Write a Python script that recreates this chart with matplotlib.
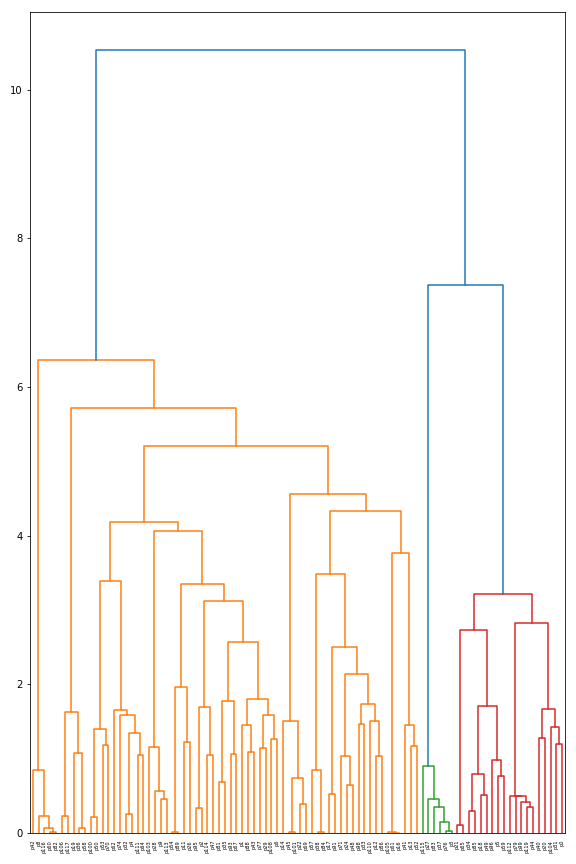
import numpy as np
import matplotlib
matplotlib.use('Agg')
import matplotlib.pyplot as plt

# Folhas na ordem em que aparecem no eixo x
leaf_labels = ['p42', 'p8', 'p116', 'p60', 'p82', 'p106', 'p117', 'p19', 'p36', 'p58',
               'p100', 'p50', 'p53', 'p70', 'p62', 'p74', 'p32', 'p4', 'p111', 'p64',
               'p103', 'p28', 'p9', 'p113', 'p54', 'p89', 'p11', 'p26', 'p95', 'p2',
               'p114', 'p47', 'p81', 'p35', 'p93', 'p67', 'p1', 'p88', 'p43', 'p77',
               'p29', 'p108', 'p6', 'p14', 'p45', 'p101', 'p22', 'p69', 'p57', 'p38',
               'p84', 'p17', 'p91', 'p71', 'p24', 'p48', 'p98', 'p33', 'p110', 'p12',
               'p86', 'p105', 'p61', 'p16', 'p41', 'p13', 'p52', 'p115', 'p27', 'p83',
               'p37', 'p76', 'p3', 'p21', 'p65', 'p34', 'p85', 'p18', 'p49', 'p96',
               'p5', 'p59', 'p112', 'p79', 'p99', 'p119', 'p44', 'p40', 'p20', 'p104',
               'p31', 'p0']

# Fusoes (estilo matriz de ligacao): indices < n_folhas sao folhas,
# indice n_folhas + k e a fusao k
merge_a = [3, 2, 1, 0, 5, 8, 7, 96, 10, 12, 100, 16, 18, 103, 15, 14, 102,
           22, 21, 20, 24, 26, 112, 28, 30, 115, 32, 34, 118, 37, 36, 39, 41, 123, 122,
           120, 117, 114, 111, 108, 44, 46, 132, 43, 49, 48, 51, 54, 53, 56, 59, 58,
           141, 140, 138, 137, 62, 61, 65, 64, 149, 147, 135, 131, 99, 95,
           71, 70, 69, 68, 67, 73, 75, 77, 164, 80, 79, 166, 163, 85, 84, 83, 82,
           87, 90, 89, 175, 174, 170, 162, 157]
merge_b = [4, 92, 93, 94, 6, 9, 97, 98, 11, 13, 101, 17, 19, 104, 105, 106, 107,
           23, 109, 110, 25, 27, 113, 29, 31, 116, 33, 35, 119, 38, 121, 40, 42, 124, 125,
           126, 127, 128, 129, 130, 45, 47, 133, 134, 50, 136, 52, 55, 139, 57, 60, 142,
           143, 144, 145, 146, 63, 148, 66, 150, 151, 152, 153, 154, 155, 156,
           72, 158, 159, 160, 161, 74, 76, 78, 165, 81, 167, 168, 169, 86, 171, 172, 173,
           88, 91, 176, 177, 178, 179, 180, 181]
merge_h = [0.01, 0.06, 0.23, 0.84, 0.23, 0.06, 1.07, 1.63, 0.21, 1.18, 1.40, 0.26, 1.05,
           1.35, 1.58, 1.66, 3.39, 0.46, 0.56, 1.15, 0.01, 1.22, 1.96, 0.33, 1.05, 1.69,
           0.69, 1.06, 1.78, 1.09, 1.45, 1.14, 1.27, 1.58, 1.80, 2.57, 3.12, 3.35, 4.06,
           4.19, 0.01, 0.39, 0.74, 1.50, 0.01, 0.84, 0.53, 0.64, 1.04, 1.46, 1.03, 1.51,
           1.74, 2.14, 2.50, 3.49, 0.005, 0.01, 1.17, 1.45, 3.76, 4.33, 4.56, 5.21, 5.72,
           6.36, 0.03, 0.14, 0.35, 0.45, 0.90, 0.10, 0.29, 0.51, 0.79, 0.76, 0.98, 1.71,
           2.73, 0.35, 0.41, 0.49, 0.50, 1.28, 1.19, 1.43, 1.67, 2.82, 3.22, 7.38, 10.53]

color_threshold = 7.0
cluster_colors = ['C1', 'C2', 'C3']

n = len(leaf_labels)
pos = {i: 5 + 10 * i for i in range(n)}
alt = {i: 0.0 for i in range(n)}
for k in range(len(merge_h)):
    a, b = merge_a[k], merge_b[k]
    pos[n + k] = (pos[a] + pos[b]) / 2
    alt[n + k] = merge_h[k]

# cor de cada fusao (de cima para baixo)
cor = {}
proximo = [0]


def pinta(no, c):
    if no < n:
        return
    k = no - n
    if c is None and merge_h[k] < color_threshold:
        c = cluster_colors[proximo[0] % len(cluster_colors)]
        proximo[0] += 1
    cor[k] = c if c is not None else 'C0'
    pinta(merge_a[k], c)
    pinta(merge_b[k], c)


pinta(n + len(merge_h) - 1, None)

fig = plt.figure(figsize=(8, 12), dpi=72)
ax = fig.add_axes([0.052, 0.036, 0.929, 0.95])

for k in range(len(merge_h)):
    a, b = merge_a[k], merge_b[k]
    h = merge_h[k]
    ax.plot([pos[a], pos[a], pos[b], pos[b]], [alt[a], h, h, alt[b]],
            color=cor[k], linewidth=1.5)

ax.set_xlim(0, 10 * n)
ax.set_ylim(0, max(merge_h) * 1.049)
ax.set_xticks([pos[i] for i in range(n)])
ax.set_xticklabels(leaf_labels, rotation=90, fontsize=5)
for line in ax.get_xticklines():
    line.set_visible(False)
ax.set_yticks([0, 2, 4, 6, 8, 10])

fig.savefig('out.png', dpi=72)
